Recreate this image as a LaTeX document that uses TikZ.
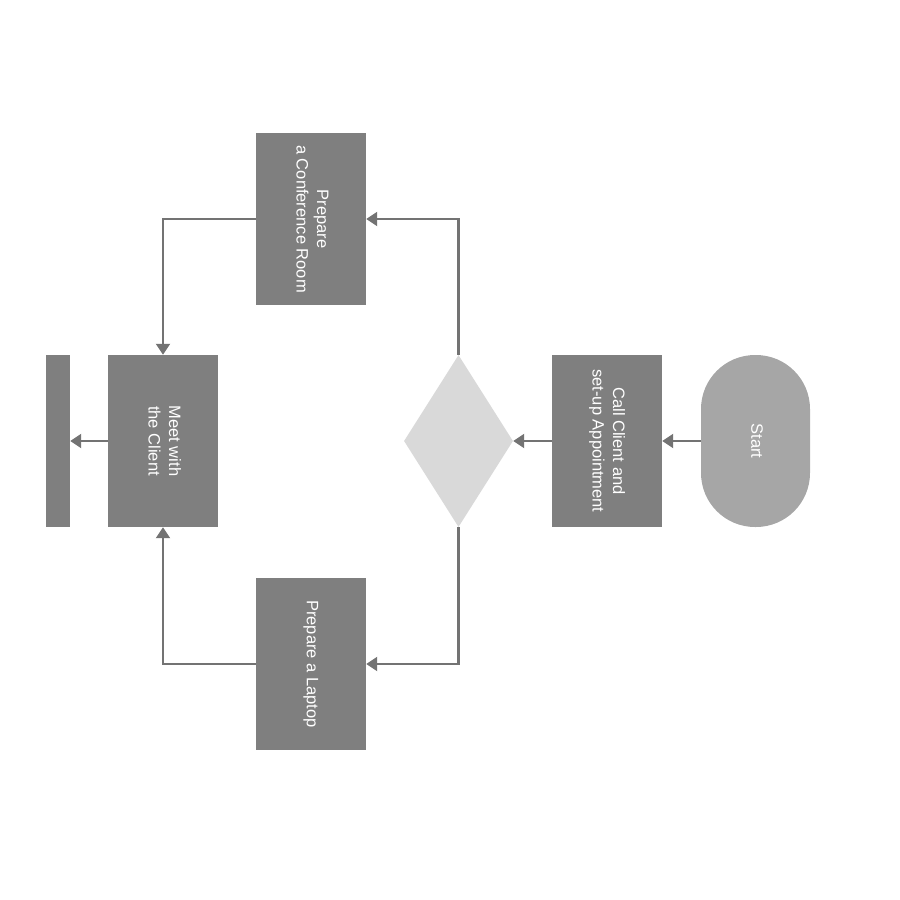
\documentclass[tikz,border=0pt]{standalone}
\usepackage{fontspec}
\setmainfont{Liberation Sans}
\usepackage{graphicx}
\usetikzlibrary{arrows.meta,shapes.geometric}

\definecolor{boxgray}{HTML}{7F7F7F}
\definecolor{startgray}{HTML}{A6A6A6}
\definecolor{decgray}{HTML}{D9D9D9}
\definecolor{linegray}{HTML}{737373}

\newcommand{\vtext}[1]{\rotatebox{-90}{\begin{tabular}{@{}c@{}}#1\end{tabular}}}

\tikzset{
    stepbox/.style={rectangle, fill=boxgray, minimum width=110pt, minimum height=172pt,
        inner sep=0pt, text=white, font=\fontsize{16.5}{20.5}\selectfont},
    startbox/.style={rectangle, rounded corners=54pt, fill=startgray, minimum width=109pt,
        minimum height=172pt, inner sep=0pt, text=white, font=\fontsize{16.5}{20.5}\selectfont},
    decbox/.style={diamond, fill=decgray, minimum width=109pt, minimum height=172pt,
        inner sep=0pt, aspect=0.63},
    flow/.style={draw=linegray, line width=2.1pt, -{Triangle[length=11pt,width=14pt]}}
}

\begin{document}
\begin{tikzpicture}[x=1pt,y=-1pt]
    \useasboundingbox (0,0) rectangle (900,900);

    % Shapes
    \node[startbox] (start) at (755.5,441) {\vtext{Start}};
    \node[stepbox] (call) at (607,441) {\vtext{Call Client and\\set-up Appointment}};
    \node[decbox] (dec) at (458.5,441) {};
    \node[stepbox] (room) at (311,219) {\vtext{Prepare\\a Conference Room}};
    \node[stepbox] (laptop) at (311,664) {\vtext{Prepare a Laptop}};
    \node[stepbox] (meet) at (163,441) {\vtext{Meet with\\the Client}};
    \node[rectangle, fill=boxgray, minimum width=24pt, minimum height=172pt,
        inner sep=0pt] (stop) at (58,441) {};

    % Connectors
    \draw[flow] (start) -- (call);
    \draw[flow] (call) -- (dec);
    \draw[flow] (dec.north) |- (room.east);
    \draw[flow] (dec.south) |- (laptop.east);
    \draw[flow] (room.west) -| (meet.north);
    \draw[flow] (laptop.west) -| (meet.south);
    \draw[flow] (meet) -- (stop);
\end{tikzpicture}
\end{document}
